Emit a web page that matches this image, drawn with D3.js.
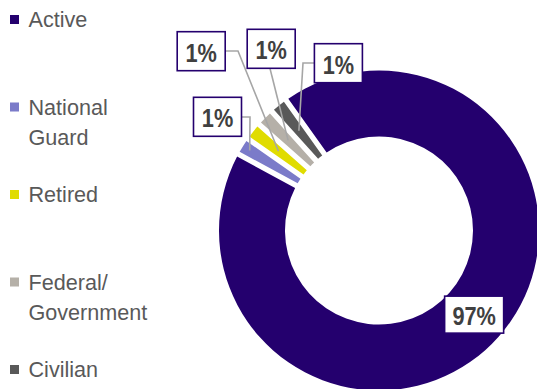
<!DOCTYPE html>
<html>
<head>
<meta charset="utf-8">
<script src="https://cdn.jsdelivr.net/npm/d3@7"></script>
<style>
  html, body { margin: 0; padding: 0; background: #fff; }
  svg { display: block; }
</style>
</head>
<body>
<svg id="chart" width="537" height="389"></svg>
<script>
// Membership breakdown, percent of total
const categories = ["Active", "National Guard", "Retired", "Federal/ Government", "Civilian"];
const legendLines = [["Active"], ["National", "Guard"], ["Retired"], ["Federal/", "Government"], ["Civilian"]];
const shares = [97, 1, 1, 1, 1];
const sliceColors = ["#24006e", "#7b7bc9", "#e0dc00", "#b5b0a8", "#595959"];

const svg = d3.select("#chart");

// ---- doughnut ----
const cx = 379, cy = 230.5;
const rOuter = 160, rInner = 94;
const startDeg = -35.5;

const pie = d3.pie()
  .sort(null)
  .value(d => d.value)
  .startAngle(startDeg * Math.PI / 180)
  .endAngle(startDeg * Math.PI / 180 + 2 * Math.PI)
  .padAngle(0.054);

const arc = d3.arc()
  .innerRadius(rInner)
  .outerRadius(rOuter)
  .padRadius(100);

const rows = categories.map((c, i) => ({ name: c, value: shares[i], color: sliceColors[i] }));
const arcs = pie(rows);

const g = svg.append("g").attr("transform", `translate(${cx},${cy})`);
g.selectAll("path.slice")
  .data(arcs)
  .join("path")
  .attr("class", "slice")
  .attr("d", arc)
  .attr("fill", d => d.data.color);

// polar helper (d3 angle convention: 0 at 12 o'clock, clockwise)
const polar = (a, r) => [cx + r * Math.sin(a), cy - r * Math.cos(a)];
const mid = d => (d.startAngle + d.endAngle) / 2;

// ---- data labels ----
// callout layout for each slice: box centre, leader start/elbow, leader end radius
const callouts = {
  "Active":              { box: null, r: 127 },
  "National Guard":      { box: [217.5, 116.8], path: [[242, 117], [250, 117]], r: 152 },
  "Retired":             { box: [201.2, 51.2],  path: [[225, 51], [238, 51]],   r: 128 },
  "Federal/ Government": { box: [271.2, 48.8],  path: [[270, 68.5]],            r: 128 },
  "Civilian":            { box: [338.4, 63.2],  path: [[314, 63], [303, 63]],   r: 128 }
};

const labelFont = "'Liberation Sans', Arial, sans-serif";
const labelSize = 26.5;
const labelSquash = 0.82;   // narrow bold figures

const labels = svg.append("g");
arcs.forEach(d => {
  const c = callouts[d.data.name];
  const text = d3.format(".0f")(d.data.value) + "%";
  let bx, by;
  if (c.box) {
    const end = polar(mid(d), c.r);
    const pts = c.path.concat([end]);
    labels.append("path")
      .attr("d", d3.line()(pts))
      .attr("fill", "none")
      .attr("stroke", "#a6a6a6")
      .attr("stroke-width", 1.6);
    [bx, by] = c.box;
  } else {
    [bx, by] = polar(mid(d), c.r);
  }
  const bw = d.data.value >= 10 ? 59 : 48;
  const bh = d.data.value >= 10 ? 37 : 39;
  labels.append("rect")
    .attr("x", bx - bw / 2)
    .attr("y", by - bh / 2)
    .attr("width", bw)
    .attr("height", bh)
    .attr("fill", "#fff")
    .attr("stroke", "#24006e")
    .attr("stroke-width", 1.6);
  labels.append("text")
    .attr("transform", `translate(${bx},${by + labelSize * 0.4}) scale(${labelSquash},1)`)
    .attr("text-anchor", "middle")
    .attr("font-family", labelFont)
    .attr("font-weight", "bold")
    .attr("font-size", labelSize)
    .attr("fill", "#404040")
    .text(text);
});

// ---- legend ----
const legendY = d3.scalePoint().domain(categories).range([15, 365]);
const legendSize = 22.5;
const legendSquash = 0.96;
const legend = svg.append("g");
categories.forEach((c, i) => {
  const top = legendY(c);
  legend.append("rect")
    .attr("x", 10)
    .attr("y", top)
    .attr("width", 9)
    .attr("height", 9)
    .attr("fill", sliceColors[i]);
  const t = legend.append("text")
    .attr("transform", `translate(28.5,${top + 12.3}) scale(${legendSquash},1)`)
    .attr("font-family", labelFont)
    .attr("font-size", legendSize)
    .attr("fill", "#595959");
  legendLines[i].forEach((line, k) => {
    t.append("tspan").attr("x", 0).attr("dy", k === 0 ? 0 : 30).text(line);
  });
});
</script>
</body>
</html>
